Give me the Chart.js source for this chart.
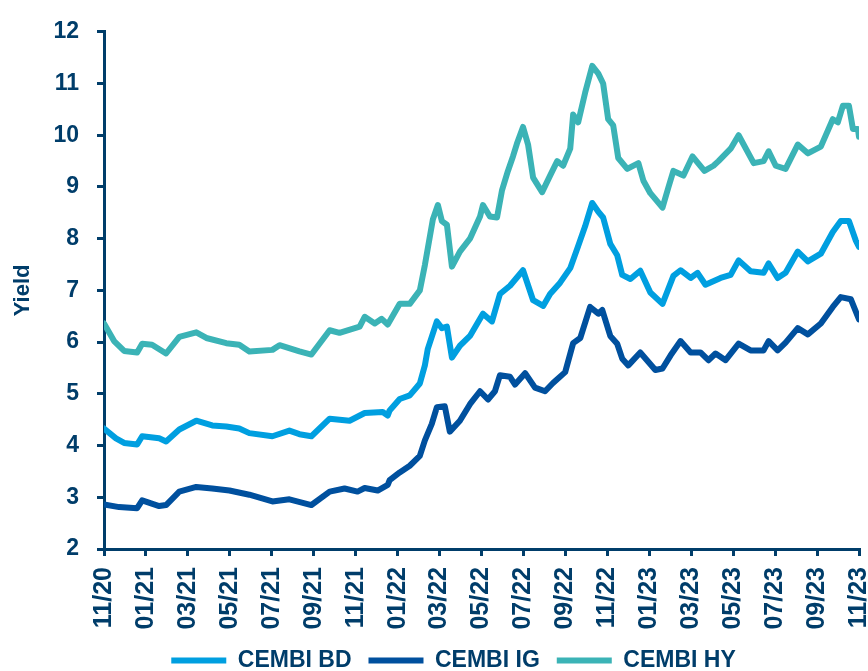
<!DOCTYPE html>
<html>
<head>
<meta charset="utf-8">
<script src="https://cdn.jsdelivr.net/npm/chart.js@4"></script>
<style>
  html, body { margin: 0; padding: 0; background: #fff; }
  #wrap { width: 868px; height: 671px; }
</style>
</head>
<body>
<div id="wrap"><canvas id="chart"></canvas></div>
<script>
const xTickLabels = ['11/20', '01/21', '03/21', '05/21', '07/21', '09/21', '11/21', '01/22', '03/22', '05/22',
  '07/22', '09/22', '11/22', '01/23', '03/23', '05/23', '07/23', '09/23', '11/23']

// x = months since 11/20
const hyMonths = [0, 0.48, 0.96, 1.58, 1.82, 2.29, 2.96, 3.59, 4.40, 4.88, 5.83, 6.45, 6.93, 8.03, 8.37, 9.32, 9.89,
  10.76, 11.23, 12.19, 12.43, 12.91, 13.24, 13.53, 14.10, 14.58, 15.06, 15.30, 15.68, 15.92, 16.11, 16.35, 16.59,
  16.97, 17.45, 17.93, 18.07, 18.40, 18.74, 18.98, 19.26, 19.50, 19.69, 19.98, 20.22, 20.46, 20.89, 21.27, 21.61,
  21.89, 22.23, 22.37, 22.61, 22.94, 23.28, 23.57, 23.80, 24.04, 24.28, 24.52, 24.95, 25.48, 25.72, 26.05, 26.63,
  26.91, 27.15, 27.63, 28.06, 28.63, 29.06, 29.30, 29.88, 30.26, 30.98, 31.45, 31.69, 32.03, 32.50, 33.08, 33.56,
  34.18, 34.75, 34.99, 35.23, 35.52, 35.71, 35.95, 36]
const hyYield = [6.36, 6.02, 5.83, 5.80, 5.97, 5.95, 5.78, 6.10, 6.19, 6.08, 5.98, 5.95, 5.82, 5.85, 5.94, 5.82, 5.76,
  6.23, 6.18, 6.30, 6.49, 6.36, 6.45, 6.34, 6.74, 6.74, 7.00, 7.49, 8.37, 8.65, 8.34, 8.27, 7.46,
  7.75, 8.00, 8.43, 8.65, 8.43, 8.41, 8.94, 9.31, 9.59, 9.84, 10.16, 9.82, 9.18, 8.90, 9.22, 9.50,
  9.41, 9.74, 10.40, 10.25, 10.82, 11.34, 11.19, 11.00, 10.31, 10.19, 9.56, 9.35, 9.46, 9.12, 8.88, 8.60,
  8.99, 9.31, 9.22, 9.59, 9.31, 9.41, 9.50, 9.74, 10.00, 9.46, 9.50, 9.69, 9.41, 9.35, 9.82, 9.65,
  9.78, 10.31, 10.25, 10.57, 10.57, 10.12, 10.12, 9.97]

const bdMonths = [0, 0.57, 0.96, 1.58, 1.82, 2.63, 2.96, 3.59, 4.40, 5.16, 5.83, 6.45, 6.93, 8.03, 8.84, 9.32, 9.89,
  10.76, 11.71, 12.43, 13.29, 13.53, 13.62, 14.10, 14.58, 15.06, 15.30, 15.44, 15.87, 16.11, 16.35, 16.59, 16.97,
  17.45, 18.07, 18.50, 18.88, 19.36, 19.98, 20.46, 20.94, 21.27, 21.75, 22.23, 22.61, 22.94, 23.28, 23.57, 23.80,
  24.14, 24.47, 24.71, 25.10, 25.57, 26.05, 26.63, 27.15, 27.49, 27.97, 28.30, 28.68, 29.40, 29.88, 30.26, 30.83,
  31.45, 31.69, 32.12, 32.50, 33.08, 33.56, 34.18, 34.75, 35.13, 35.52, 35.85, 36]
const bdYield = [4.33, 4.14, 4.05, 4.02, 4.18, 4.14, 4.08, 4.31, 4.48, 4.39, 4.37, 4.33, 4.24, 4.18, 4.29, 4.22, 4.18,
  4.52, 4.48, 4.63, 4.65, 4.58, 4.68, 4.90, 4.97, 5.20, 5.55, 5.87, 6.40, 6.27, 6.30, 5.70, 5.93,
  6.12, 6.55, 6.40, 6.93, 7.09, 7.39, 6.81, 6.70, 6.93, 7.15, 7.43, 7.86, 8.24, 8.69, 8.52, 8.41,
  7.90, 7.68, 7.30, 7.22, 7.38, 6.96, 6.74, 7.28, 7.39, 7.24, 7.34, 7.11, 7.24, 7.30, 7.58, 7.37,
  7.34, 7.52, 7.24, 7.34, 7.75, 7.56, 7.71, 8.13, 8.34, 8.34, 7.96, 7.84]

const igMonths = [0, 0.72, 1.58, 1.82, 2.63, 2.96, 3.59, 4.40, 5.16, 5.98, 6.93, 8.03, 8.84, 9.89, 10.76, 11.47, 12.09,
  12.43, 13.05, 13.53, 13.62, 14.10, 14.58, 15.06, 15.30, 15.63, 15.87, 16.25, 16.49, 16.97, 17.45, 17.93, 18.31,
  18.64, 18.88, 19.36, 19.60, 20.08, 20.55, 21.03, 21.41, 21.99, 22.37, 22.71, 23.18, 23.57, 23.76, 24.14, 24.47,
  24.71, 25.00, 25.57, 26.29, 26.63, 27.01, 27.49, 27.97, 28.44, 28.82, 29.16, 29.64, 30.26, 30.83, 31.45, 31.69,
  32.12, 32.50, 33.08, 33.56, 34.18, 34.75, 35.13, 35.61, 35.85, 36]
const igYield = [2.86, 2.81, 2.79, 2.94, 2.83, 2.85, 3.11, 3.20, 3.17, 3.13, 3.05, 2.92, 2.96, 2.85, 3.11, 3.17, 3.11,
  3.18, 3.13, 3.24, 3.33, 3.48, 3.61, 3.80, 4.10, 4.42, 4.74, 4.76, 4.27, 4.48, 4.80, 5.05, 4.89,
  5.05, 5.36, 5.33, 5.18, 5.40, 5.12, 5.05, 5.21, 5.42, 5.98, 6.08, 6.68, 6.55, 6.62, 6.12, 5.97,
  5.68, 5.55, 5.80, 5.46, 5.49, 5.74, 6.02, 5.80, 5.80, 5.65, 5.78, 5.65, 5.97, 5.84, 5.84, 6.02,
  5.84, 5.99, 6.27, 6.15, 6.36, 6.68, 6.87, 6.83, 6.59, 6.44]

const navy = '#003d6a'
const fontFamily = 'Liberation Sans, Arial, sans-serif'
const toPoints = (xs, ys) => xs.map((x, i) => ({ x: x, y: ys[i] }))

const lineStyle = (color) => ({
  borderColor: color,
  backgroundColor: color,
  borderWidth: 6,
  pointRadius: 0,
  tension: 0,
  borderCapStyle: 'round',
  borderJoinStyle: 'round',
  fill: false
})

new Chart(document.getElementById('chart'), {
  type: 'line',
  data: {
    datasets: [
      { label: 'CEMBI BD', data: toPoints(bdMonths, bdYield), order: 2, ...lineStyle('#009fe0') },
      { label: 'CEMBI IG', data: toPoints(igMonths, igYield), order: 3, ...lineStyle('#00509e') },
      { label: 'CEMBI HY', data: toPoints(hyMonths, hyYield), order: 1, ...lineStyle('#3bb3b6') }
    ]
  },
  options: {
    responsive: true,
    maintainAspectRatio: false,
    animation: false,
    // left padding nudges the centred legend to the right, y axis width makes up for it
    layout: { padding: { top: 6, right: 9, left: 48, bottom: -11 } },
    plugins: {
      legend: {
        position: 'bottom',
        labels: {
          boxWidth: 55,
          boxHeight: 6,
          padding: 17,
          color: navy,
          font: { family: fontFamily, size: 23, weight: 'bold' },
          sort: (a, b) => a.datasetIndex - b.datasetIndex,
          generateLabels: (chart) => Chart.defaults.plugins.legend.labels.generateLabels(chart)
            .map(item => ({ ...item, lineWidth: 0 }))
        }
      },
      tooltip: { enabled: false }
    },
    scales: {
      x: {
        type: 'linear',
        min: 0,
        max: 36,
        // labels are clipped to the scale box, so it must reach below them
        afterFit: (scale) => { scale.paddingRight = 0; scale.paddingLeft = 0; scale.height = 83 },
        border: { color: navy, width: 3 },
        grid: { drawOnChartArea: false, drawTicks: true, tickLength: 7, color: navy, lineWidth: 3 },
        ticks: {
          stepSize: 2,
          autoSkip: false,
          maxRotation: 90,
          minRotation: 90,
          padding: 11,
          color: navy,
          font: { family: fontFamily, size: 25, weight: 'bold' },
          callback: (value) => xTickLabels[Math.round(value / 2)]
        }
      },
      y: {
        min: 2,
        max: 12,
        afterFit: (scale) => { scale.width = 56 },
        border: { color: navy, width: 3 },
        grid: { drawOnChartArea: false, drawTicks: true, tickLength: 7, color: navy, lineWidth: 3 },
        title: {
          display: true,
          text: 'Yield',
          color: navy,
          padding: { top: -38, bottom: 0 },
          font: { family: fontFamily, size: 22, weight: 'bold' }
        },
        ticks: {
          stepSize: 1,
          padding: 18,
          color: navy,
          font: { family: fontFamily, size: 23, weight: 'bold' }
        }
      }
    }
  }
})
</script>
</body>
</html>
